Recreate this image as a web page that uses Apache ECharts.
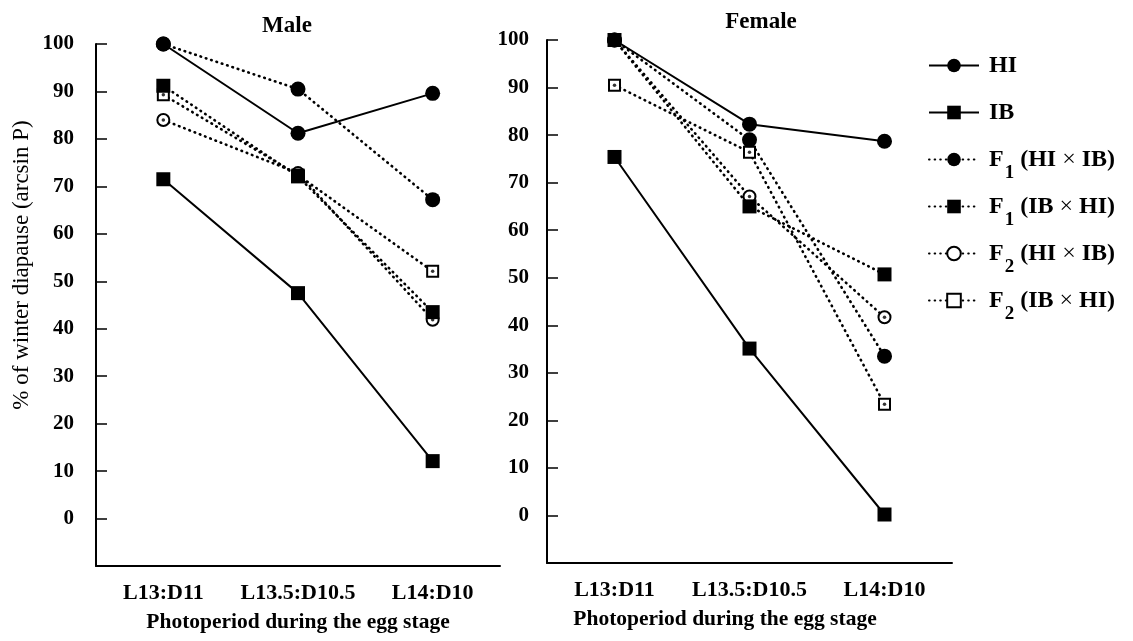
<!DOCTYPE html>
<html>
<head>
<meta charset="utf-8">
<title>Winter diapause by photoperiod</title>
<script src="https://cdn.jsdelivr.net/npm/echarts@6/dist/echarts.min.js"></script>
<style>
  html, body { margin: 0; padding: 0; background: #fff; }
  #chart { width: 1133px; height: 641px; }
</style>
</head>
<body>
<div id="chart"></div>
<script>
// Photoperiod treatments during the egg stage
const photoperiods = ['L13:D11', 'L13.5:D10.5', 'L14:D10'];

// Male: % of winter diapause (arcsin P)
const maleHI      = [100, 81.2, 89.6];
const maleIB      = [71.5, 47.5, 12.1];
const maleF1HIxIB = [100, 90.5, 67.2];
const maleF1IBxHI = [91.2, 72.1, 43.5];
const maleF2HIxIB = [84, 72.8, 41.9];
const maleF2IBxHI = [89.3, 72.4, 52.1];

// Female: % of winter diapause (arcsin P)
const femaleHI      = [100, 82.3, 78.7];
const femaleIB      = [75.4, 35.1, 0.2];
const femaleF1HIxIB = [100, 79, 33.5];
const femaleF1IBxHI = [100, 65, 50.7];
const femaleF2HIxIB = [100, 67.1, 41.7];
const femaleF2IBxHI = [90.5, 76.4, 23.4];

const yTicks = { min: -10, max: 100, step: 10 };

const FONT = "'Liberation Serif', 'Times New Roman', serif";

const names = {
  HI: 'HI',
  IB: 'IB',
  F1a: 'F1 (HI×IB)',
  F1b: 'F1 (IB×HI)',
  F2a: 'F2 (HI×IB)',
  F2b: 'F2 (IB×HI)'
};

const legendText = {
  'HI': '{m|HI}{s| }',
  'IB': '{m|IB}{s| }',
  'F1 (HI×IB)': '{m|F}{s|1}{p|(HI}{x|×}{p|IB)}',
  'F1 (IB×HI)': '{m|F}{s|1}{p|(IB}{x|×}{p|HI)}',
  'F2 (HI×IB)': '{m|F}{s|2}{p|(HI}{x|×}{p|IB)}',
  'F2 (IB×HI)': '{m|F}{s|2}{p|(IB}{x|×}{p|HI)}'
};

const solidLine = { color: '#000', width: 2, type: 'solid' };
const dottedLine = { color: '#000', width: 2.6, type: [0.6, 5], cap: 'round' };

function lineSeries(name, data, panel, opts) {
  return {
    type: 'line',
    name: name,
    data: data,
    xAxisIndex: panel,
    yAxisIndex: panel,
    symbol: opts.symbol,
    symbolSize: opts.size,
    z: opts.z,
    lineStyle: opts.dotted ? dottedLine : solidLine,
    itemStyle: {
      color: '#000',
      borderColor: '#000',
      borderWidth: opts.border || 0
    },
    emphasis: { disabled: true },
    animation: false
  };
}

// small centre dot inside the open markers
function centreDots(name, data, panel) {
  return {
    type: 'scatter',
    name: name + ' dot',
    data: data,
    xAxisIndex: panel,
    yAxisIndex: panel,
    symbol: 'circle',
    symbolSize: 3.5,
    z: 3,
    silent: true,
    itemStyle: { color: '#000' },
    animation: false
  };
}

function panelSeries(panel, d) {
  return [
    lineSeries(names.F2a, d.f2a, panel, { symbol: 'emptyCircle', size: 12, dotted: true, border: 2, z: 2 }),
    lineSeries(names.F2b, d.f2b, panel, { symbol: 'emptyRect', size: 11, dotted: true, border: 2, z: 2 }),
    centreDots(names.F2a, d.f2a, panel),
    centreDots(names.F2b, d.f2b, panel),
    lineSeries(names.F1a, d.f1a, panel, { symbol: 'circle', size: 15, dotted: true, z: 4 }),
    lineSeries(names.F1b, d.f1b, panel, { symbol: 'rect', size: 14, dotted: true, z: 5 }),
    lineSeries(names.HI, d.hi, panel, { symbol: 'circle', size: 15, dotted: false, z: 4 }),
    lineSeries(names.IB, d.ib, panel, { symbol: 'rect', size: 14, dotted: false, z: 5 })
  ];
}

function xAxis(gridIndex, namePad) {
  return {
    type: 'category',
    gridIndex: gridIndex,
    data: photoperiods,
    boundaryGap: true,
    axisLine: { onZero: false, lineStyle: { color: '#000', width: 2 } },
    axisTick: { inside: true, alignWithLabel: true, length: 11, lineStyle: { color: '#000', width: 1.5 } },
    axisLabel: { interval: 0, hideOverlap: false, margin: 16, color: '#000', fontFamily: FONT, fontSize: 22, fontWeight: 'bold' },
    splitLine: { show: false },
    name: 'Photoperiod during the egg stage',
    nameLocation: 'middle',
    nameGap: 45,
    nameTextStyle: { color: '#000', fontFamily: FONT, fontSize: 21.5, fontWeight: 'bold', padding: namePad }
  };
}

function yAxis(gridIndex, margin) {
  return {
    type: 'value',
    gridIndex: gridIndex,
    min: yTicks.min,
    max: yTicks.max,
    interval: yTicks.step,
    axisLine: { show: true, lineStyle: { color: '#000', width: 2 } },
    axisTick: { show: true, inside: true, length: 11, lineStyle: { color: '#000', width: 1.5 } },
    axisLabel: {
      margin: margin,
      color: '#000',
      fontFamily: FONT,
      fontSize: 21,
      fontWeight: 'bold',
      showMinLabel: false
    },
    splitLine: { show: false }
  };
}

const richBase = { fontFamily: FONT, color: '#000', fontWeight: 'bold' };

const option = {
  backgroundColor: '#fff',
  animation: false,
  title: [
    { text: 'Male', left: 282, top: 10, textAlign: 'center',
      textStyle: { fontFamily: FONT, fontSize: 23, fontWeight: 'bold', color: '#000' } },
    { text: 'Female', left: 756, top: 6, textAlign: 'center',
      textStyle: { fontFamily: FONT, fontSize: 23, fontWeight: 'bold', color: '#000' } }
  ],
  grid: [
    { left: 96, top: 44, width: 404, height: 522 },
    { left: 547, top: 40, width: 405, height: 523 }
  ],
  xAxis: [xAxis(0, [0, 0, 0, 0]), xAxis(1, [0, 49, 0, 0])],
  yAxis: [yAxis(0, 22), yAxis(1, 18)],
  legend: {
    orient: 'vertical',
    left: 923,
    top: 37,
    itemWidth: 50,
    itemHeight: 17,
    itemGap: 0,
    selectedMode: false,
    data: [names.HI, names.IB, names.F1a, names.F1b, names.F2a, names.F2b],
    formatter: function (n) { return legendText[n]; },
    textStyle: {
      fontFamily: FONT,
      color: '#000',
      rich: {
        m: Object.assign({}, richBase, { fontSize: 24, lineHeight: 22, padding: [0, 0, 0, 5] }),
        s: Object.assign({}, richBase, { fontSize: 19, lineHeight: 18, padding: [28, 6, 0, 1] }),
        p: Object.assign({}, richBase, { fontSize: 24, lineHeight: 22 }),
        x: Object.assign({}, richBase, { fontSize: 24, lineHeight: 22, fontWeight: 'normal', padding: [0, 6, 0, 6] })
      }
    }
  },
  graphic: [
    {
      type: 'text',
      x: 22,
      y: 265,
      rotation: Math.PI / 2,
      style: {
        text: '% of winter diapause (arcsin P)',
        fontFamily: FONT,
        fontSize: 23,
        fill: '#000',
        textAlign: 'center',
        textVerticalAlign: 'middle'
      }
    }
  ],
  series: [].concat(
    panelSeries(0, { hi: maleHI, ib: maleIB, f1a: maleF1HIxIB, f1b: maleF1IBxHI, f2a: maleF2HIxIB, f2b: maleF2IBxHI }),
    panelSeries(1, { hi: femaleHI, ib: femaleIB, f1a: femaleF1HIxIB, f1b: femaleF1IBxHI, f2a: femaleF2HIxIB, f2b: femaleF2IBxHI })
  )
};

const chart = echarts.init(document.getElementById('chart'), null, { renderer: 'canvas' });
chart.setOption(option);
</script>
</body>
</html>
